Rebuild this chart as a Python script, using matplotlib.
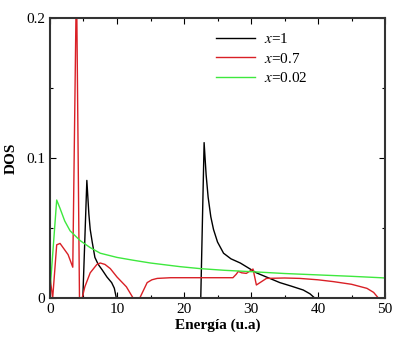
import matplotlib
matplotlib.use("Agg")
import matplotlib.pyplot as plt
from matplotlib.ticker import MultipleLocator

plt.rcParams["font.family"] = ["Liberation Serif", "DejaVu Serif"]
plt.rcParams["mathtext.fontset"] = "stix"

# x=1
e_x1 = [0, 4.9, 5.5, 5.8, 6.0, 6.3, 6.7, 7.2, 7.8, 8.5, 9.2, 9.6, 9.9, 10.5,
        22.5, 23.0, 23.3, 23.6, 24.0, 24.4, 25.0, 25.9, 27.0, 28.4, 30.8,
        34.3, 36.0, 37.8, 38.8, 39.5, 50]
dos_x1 = [0, 0, 0.084, 0.06, 0.049, 0.04, 0.029, 0.024, 0.020, 0.015, 0.011,
          0.007, 0, 0,
          0, 0.111, 0.088, 0.072, 0.058, 0.049, 0.040, 0.032, 0.028, 0.025,
          0.018, 0.011, 0.0085, 0.0057, 0.003, 0, 0]

# x=0.7
e_x07 = [0, 0.4, 1.0, 1.5, 2.7, 3.4, 3.95, 4.4, 4.8, 5.2, 6.0, 7.0, 7.5, 8.2,
         9.0, 10.0, 11.4, 12.4, 13.4, 14.0, 14.5, 15.2, 16, 18, 22.4, 27.3,
         27.8, 28.1, 28.6, 29.3, 30.3, 30.8, 32.3, 35, 37.3, 40, 42.3, 45,
         47.3, 48.3, 49.0, 50]
dos_x07 = [0.015, 0, 0.038, 0.039, 0.031, 0.022, 0.23, 0, 0, 0.008, 0.018,
           0.024, 0.025, 0.024, 0.021, 0.015, 0.008, 0, 0, 0.006, 0.011,
           0.013, 0.014, 0.0145, 0.0145, 0.0145, 0.017, 0.019, 0.018, 0.0176,
           0.0207, 0.0093, 0.014, 0.0143, 0.014, 0.013, 0.0117, 0.0098,
           0.0069, 0.004, 0, 0]

# x=0.02
e_x002 = [0, 1.0, 1.5, 2.2, 3.0, 4.5, 6.0, 7.5, 10, 12.4, 15, 19.4, 22.4, 26,
          30.1, 35, 40, 45, 49.3, 50]
dos_x002 = [0.005, 0.070, 0.064, 0.055, 0.048, 0.041, 0.036, 0.032, 0.029,
            0.027, 0.025, 0.0224, 0.021, 0.0198, 0.0188, 0.0175, 0.0165,
            0.0155, 0.0145, 0.0143]

fig = plt.figure(figsize=(3.99, 3.40), dpi=100)
ax = fig.add_axes([0.1253, 0.1235, 0.8397, 0.8235])

ax.plot(e_x1, dos_x1, color="black", lw=1.0, label="$x$=1")
ax.plot(e_x07, dos_x07, color="#d92026", lw=1.0, label="$x$=0.7")
ax.plot(e_x002, dos_x002, color="#3ee83e", lw=1.0, label="$x$=0.02")

ax.set_xlim(0, 50)
ax.set_ylim(0, 0.2)
ax.xaxis.set_major_locator(MultipleLocator(10))
ax.xaxis.set_minor_locator(MultipleLocator(5))
ax.yaxis.set_minor_locator(MultipleLocator(0.05))
ax.set_yticks([0, 0.1, 0.2])
ax.set_yticklabels(["0", "0.1", "0.2"])
ax.tick_params(which="both", direction="in", top=True, right=True,
               labelsize=11, length=4, width=0.8)
ax.tick_params(which="minor", length=2.5)
for s in ax.spines.values():
    s.set_linewidth(1.5)
    s.set_color("#333333")

ax.set_xlabel("Energía (u.a)", fontsize=11, fontweight="bold", labelpad=2)
ax.set_ylabel("DOS", fontsize=11, fontweight="bold", labelpad=6)

ax.legend(loc="upper left", bbox_to_anchor=(0.455, 0.998), frameon=False,
          fontsize=11, handlelength=2.55, handletextpad=0.6,
          labelspacing=0.35)

fig.savefig("out.png", dpi=100)
